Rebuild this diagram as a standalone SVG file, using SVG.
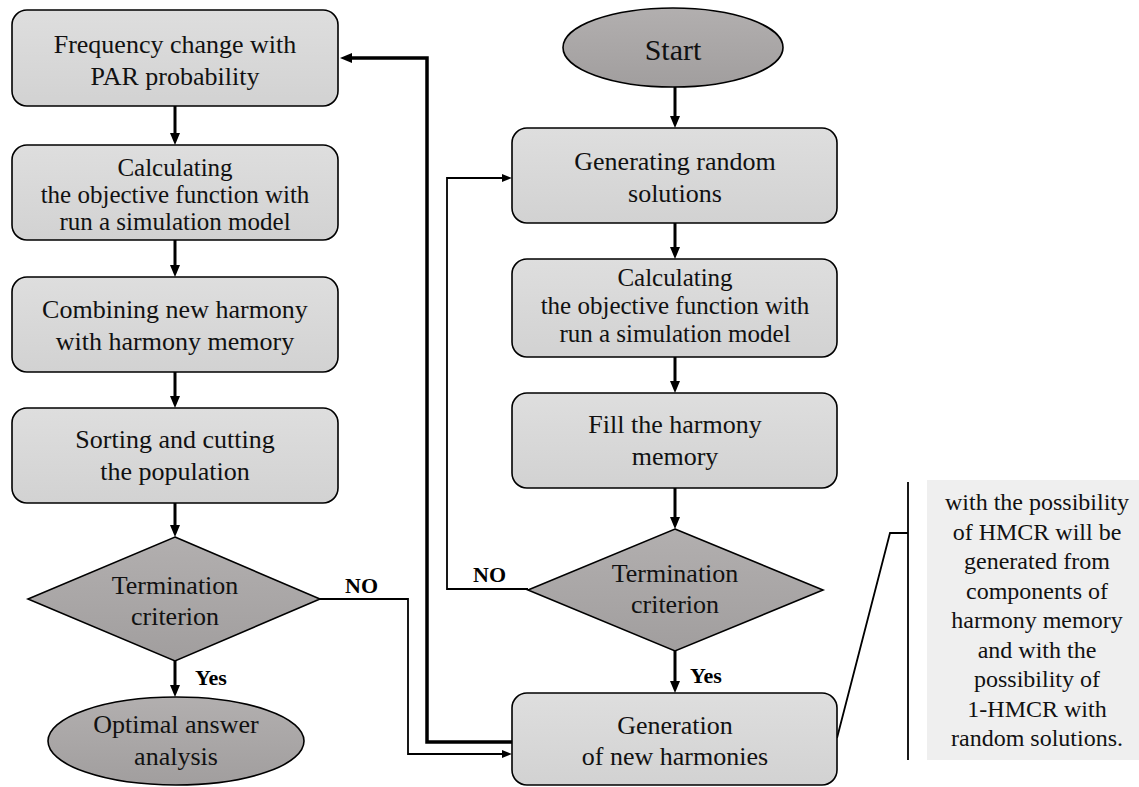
<svg xmlns="http://www.w3.org/2000/svg" width="1139" height="787" viewBox="0 0 1139 787">
<defs>
<linearGradient id="gBox" x1="0" y1="0" x2="0" y2="1">
<stop offset="0" stop-color="#dedede"/>
<stop offset="1" stop-color="#d2d2d2"/>
</linearGradient>
<linearGradient id="gDec" x1="0" y1="0" x2="0" y2="1">
<stop offset="0" stop-color="#b2afaf"/>
<stop offset="1" stop-color="#a19e9e"/>
</linearGradient>
<marker id="ah" viewBox="0 0 12 10" refX="1" refY="5" markerWidth="12" markerHeight="10" markerUnits="userSpaceOnUse" orient="auto">
<path d="M0,0 L12,5 L0,10 z" fill="#000"/>
</marker>
<marker id="ahs" viewBox="0 0 10 8" refX="1" refY="4" markerWidth="10" markerHeight="8" markerUnits="userSpaceOnUse" orient="auto">
<path d="M0,0 L10,4 L0,8 z" fill="#000"/>
</marker>
</defs>
<style>
.box{fill:url(#gBox);stroke:#000;stroke-width:1.6}
.dec{fill:url(#gDec);stroke:#000;stroke-width:1.6}
.t{font-family:"Liberation Serif","Times New Roman",serif;font-size:26px;fill:#111;text-anchor:middle}
.s25{font-size:25px}
.st{font-size:30px}
.ann{font-size:24px}
.lbl{font-family:"Liberation Serif","Times New Roman",serif;font-weight:bold;font-size:22px;fill:#000}
.thick{fill:none;stroke:#000;stroke-width:3}
.loop{fill:none;stroke:#000;stroke-width:3.5}
.thin{fill:none;stroke:#000;stroke-width:1.8}
</style>
<rect width="1139" height="787" fill="#fff"/>

<g id="connectors">
<path class="thick" d="M175,106 V134" marker-end="url(#ah)"/>
<path class="thick" d="M175,240 V266" marker-end="url(#ah)"/>
<path class="thick" d="M175,372 V397" marker-end="url(#ah)"/>
<path class="thick" d="M175,503 V526" marker-end="url(#ah)"/>
<path class="thick" d="M175,661 V686" marker-end="url(#ah)"/>
<path class="thick" d="M675,87 V117" marker-end="url(#ah)"/>
<path class="thick" d="M675,223 V248" marker-end="url(#ah)"/>
<path class="thick" d="M675,357 V382" marker-end="url(#ah)"/>
<path class="thick" d="M675,488 V518" marker-end="url(#ah)"/>
<path class="thick" d="M675,651 V682" marker-end="url(#ah)"/>
<path class="loop" d="M512,742 H427 V58 H351" marker-end="url(#ah)"/>
<path class="thin" d="M320,599 H408 V754 H503" marker-end="url(#ahs)"/>
<path class="thin" d="M528,589 H447 V178 H503" marker-end="url(#ahs)"/>
<path class="thin" d="M837,738 L890,533 H908"/>
<path class="thin" d="M908,482 V760"/>
<text class="lbl" x="345" y="593">NO</text>
<text class="lbl" x="473" y="582">NO</text>
<text class="lbl" x="195" y="685">Yes</text>
<text class="lbl" x="690" y="683">Yes</text>
</g>

<g id="n-frequency">
<rect class="box" x="12" y="10" width="326" height="96" rx="15"/>
<text class="t" x="175" y="53">Frequency change with</text>
<text class="t" x="175" y="85">PAR probability</text>
</g>
<g id="n-calc-left">
<rect class="box" x="12" y="145" width="326" height="95" rx="15"/>
<text class="t s25" x="175" y="176">Calculating</text>
<text class="t s25" x="175" y="203">the objective function with</text>
<text class="t s25" x="175" y="230">run a simulation model</text>
</g>
<g id="n-combining">
<rect class="box" x="12" y="277" width="326" height="95" rx="15"/>
<text class="t" x="175" y="318">Combining new harmony</text>
<text class="t" x="175" y="350">with harmony memory</text>
</g>
<g id="n-sorting">
<rect class="box" x="12" y="408" width="326" height="95" rx="15"/>
<text class="t" x="175" y="448">Sorting and cutting</text>
<text class="t" x="175" y="480">the population</text>
</g>
<g id="n-term-left">
<polygon class="dec" points="175,537 320,599 175,661 28,599"/>
<text class="t" x="175" y="594">Termination</text>
<text class="t" x="175" y="625">criterion</text>
</g>
<g id="n-optimal">
<ellipse class="dec" cx="176" cy="741" rx="128" ry="44"/>
<text class="t" x="176" y="733">Optimal answer</text>
<text class="t" x="176" y="765">analysis</text>
</g>

<g id="n-start">
<ellipse class="dec" cx="673" cy="47.5" rx="110" ry="39.5"/>
<text class="t st" x="673" y="60">Start</text>
</g>
<g id="n-generating">
<rect class="box" x="512" y="128" width="325" height="95" rx="15"/>
<text class="t" x="675" y="170">Generating random</text>
<text class="t" x="675" y="202">solutions</text>
</g>
<g id="n-calc-right">
<rect class="box" x="512" y="259" width="325" height="98" rx="15"/>
<text class="t s25" x="675" y="286">Calculating</text>
<text class="t s25" x="675" y="314">the objective function with</text>
<text class="t s25" x="675" y="342">run a simulation model</text>
</g>
<g id="n-fill">
<rect class="box" x="512" y="393" width="325" height="95" rx="15"/>
<text class="t" x="675" y="433">Fill the harmony</text>
<text class="t" x="675" y="465">memory</text>
</g>
<g id="n-term-right">
<polygon class="dec" points="675,529 823,590 675,651 528,590"/>
<text class="t" x="675" y="582">Termination</text>
<text class="t" x="675" y="613">criterion</text>
</g>
<g id="n-generation">
<rect class="box" x="512" y="693" width="325" height="92" rx="15"/>
<text class="t" x="675" y="734">Generation</text>
<text class="t" x="675" y="765">of new harmonies</text>
</g>

<g id="n-annotation">
<rect x="927" y="480" width="212" height="280" fill="#efefef"/>
<text class="t ann" x="1037" y="510">with the possibility</text>
<text class="t ann" x="1037" y="539.5">of HMCR will be</text>
<text class="t ann" x="1037" y="569">generated from</text>
<text class="t ann" x="1037" y="598.5">components of</text>
<text class="t ann" x="1037" y="628">harmony memory</text>
<text class="t ann" x="1037" y="657.5">and with the</text>
<text class="t ann" x="1037" y="687">possibility of</text>
<text class="t ann" x="1037" y="716.5">1-HMCR with</text>
<text class="t ann" x="1037" y="746">random solutions.</text>
</g>
</svg>
